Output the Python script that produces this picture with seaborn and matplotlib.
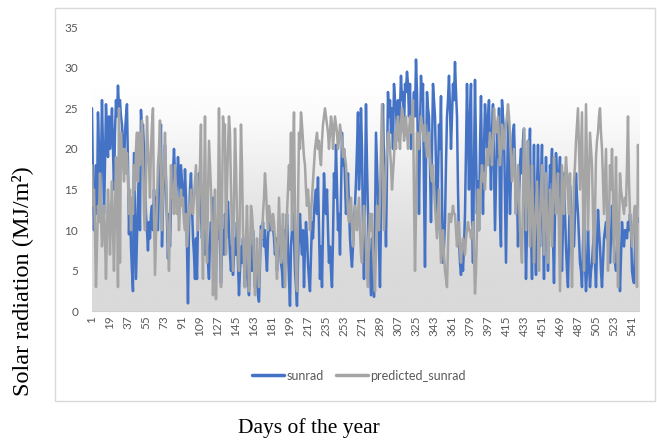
import numpy as np
import pandas as pd
import matplotlib
matplotlib.use("Agg")
import matplotlib.pyplot as plt
from matplotlib.lines import Line2D
from matplotlib.patches import Rectangle
import seaborn as sns

# ---------------- data ----------------
sunrad = [
    25, 16, 10, 14, 18, 12, 24.5, 20, 13.5, 18, 26, 20, 12, 18, 25.5, 22, 19, 24,
    20, 22, 25, 20, 15, 22, 26, 24, 27.8, 25, 26, 24, 23, 20, 17, 22, 24, 25.5,
    18, 9.5, 14, 8, 5, 2.5, 19.5, 12, 4, 9, 14, 17, 10, 24.8, 22, 23, 20, 16,
    12, 10, 7.5, 11, 9, 12, 13, 10, 15, 12, 14, 12, 10, 16, 21, 23, 8, 13,
    17, 20.5, 16, 11, 6.5, 12, 8, 13, 15, 17, 20, 17, 14, 16, 19, 17, 13, 18,
    16, 14, 12, 17.5, 14, 8, 1, 10, 15, 17, 13, 9, 7, 4, 9, 4, 11, 17,
    15, 12, 9, 11, 8, 7, 10, 9, 6, 4, 9, 11, 8, 14, 9, 5, 9, 11,
    9, 13, 8, 3.5, 8, 10, 7, 12, 9, 11, 13.5, 10, 7, 5, 8, 4.5, 7, 9,
    7, 11, 6, 2, 5, 8, 6, 9, 6, 3, 7, 5, 4, 2, 6, 8, 5, 10,
    7, 3, 6, 4, 2, 1.2, 6, 10.5, 9, 11, 8, 10, 7, 5, 9, 11, 10, 11,
    10, 10.5, 9, 7, 9, 5, 8, 10, 8, 6, 5, 3, 7, 10, 9, 12, 8, 4,
    0.7, 8, 10, 12, 9, 5, 3, 0.7, 6, 10, 12, 9, 7, 10, 3, 8, 11, 9,
    6, 4, 2.5, 7, 11, 9, 12, 14, 15, 12, 16.5, 10, 4, 8, 3, 10, 17, 14,
    12, 15, 10, 6, 8, 5, 3, 9, 17, 14, 20.5, 15, 10, 12, 7, 14, 22, 18,
    20, 16, 12, 14, 17, 13, 9, 7, 5.5, 8, 11, 13, 16, 20, 24.5, 15, 18, 25,
    20, 10, 4, 15, 25.5, 18, 12, 8, 5, 2, 9, 6, 1.8, 10, 22, 18, 14, 8,
    3, 12, 20, 25.5, 18, 14, 8, 18, 27, 24, 26, 22, 25, 20, 28, 26, 25, 22,
    26, 21, 25, 29, 26, 27, 22, 28, 27, 29.5, 28, 24, 28, 20, 23, 25, 27, 24,
    31, 27, 20, 12, 22, 29, 26, 28, 15, 5.5, 18, 27, 25, 24, 18, 11, 20, 28,
    26, 24, 18, 10, 16, 23, 20, 26.5, 14, 6, 8, 11, 18, 24, 26, 29, 25, 20,
    24, 28, 26, 30.7, 27, 24, 15, 9, 6, 4.5, 7, 5, 8, 12, 20, 28, 22, 15,
    24, 28, 12, 6, 18, 28.5, 20, 12, 16, 10, 20, 26.5, 18, 12, 20, 25.5, 23, 20,
    24, 26, 20, 15, 22, 25.5, 18, 10, 16, 22, 19, 25, 12, 8, 26, 24, 22, 14,
    6, 15, 23.5, 18, 12, 17, 20, 22, 23, 18, 12, 15, 8, 14, 18, 20, 17, 21,
    22.5, 12, 4, 10, 21, 18, 22.5, 10, 4, 12, 20.5, 9, 4.5, 15, 20.5, 14, 8, 16,
    20.5, 10, 4, 12, 19, 11, 5, 13, 18, 16, 20, 9, 3.5, 12, 19.5, 17, 14, 16,
    19, 10, 5, 11, 17, 12, 8, 5, 3, 9, 15.5, 13, 10, 9, 8, 12, 17, 14,
    12, 9, 6, 5, 3, 8, 12, 6, 2.5, 5, 10, 6, 3, 5, 6, 8, 9.5, 6,
    3, 8, 12.5, 10, 8, 5, 3, 6, 9, 10, 11, 9, 10, 8, 6, 9, 13, 10,
    8, 6, 5, 7, 9, 6, 2.5, 7, 11, 9, 8, 10, 10, 9, 11, 10, 12, 10,
    5, 4, 3.5, 8, 12, 11, 11.5, 11,
]

predicted_sunrad = [
    18, 13, 15, 10, 3, 8, 13, 11, 17, 12, 8, 10, 13, 9, 4, 10, 15, 12,
    7, 12, 16, 10, 5, 12, 19, 14, 3, 25, 6, 22, 18, 20, 16, 20, 17, 19.5,
    16, 12, 15, 10, 14, 12, 18, 15, 20, 22, 16, 22, 18, 20, 23.5, 19, 12, 10,
    16, 24, 20, 18, 14, 20, 23, 25, 12, 4.5, 9, 14, 18, 20, 23.5, 16, 10, 15,
    18, 22, 17, 12, 9, 5, 11, 18, 14, 15, 12, 18, 15, 12, 14, 10, 13, 15,
    13, 14, 11, 10, 12, 8, 10, 13, 12, 15, 13, 12, 14, 16, 18, 13, 10, 14,
    18, 23, 10, 4, 14, 24, 12, 6, 14, 21, 18, 15, 10, 2, 8, 15, 1.5, 8,
    12, 25, 14, 3, 12, 24, 22, 23, 7, 15, 20, 24, 22, 15, 10, 5, 14, 22.5,
    18, 12, 8, 5, 14, 23, 18, 10, 6, 3, 9, 13, 8, 2.5, 7, 13, 12, 10,
    6, 2, 5, 9, 6, 3, 7, 10, 9, 12, 14, 17, 15, 12, 10, 13, 12, 11,
    10, 12, 11, 9, 7, 4, 9, 14, 10, 6, 9, 12, 8, 3, 7, 12, 15, 18,
    15, 22, 10, 18, 24.5, 12, 5, 2.5, 12, 22, 20, 24.5, 23, 21, 19, 18, 15, 13,
    15, 13, 10, 12, 14, 16, 18, 20, 21, 22, 20, 21, 19, 18, 21, 23, 24, 25,
    24, 23, 22, 20, 22, 24, 23, 20, 22, 24, 23, 22, 20, 21, 23, 22, 21, 19,
    20, 19, 18, 15, 12, 11, 13, 14, 11, 8, 10, 13, 12, 10, 12, 14, 10, 7,
    6, 10, 13, 11, 8, 5, 3, 9, 12, 10, 12, 8, 5, 2.5, 8, 13, 11, 10,
    14, 20, 25.5, 18, 10, 14, 18, 20, 22, 22, 20, 18, 15, 17, 19, 22, 20, 23,
    24, 22, 20, 23, 25, 24, 21, 22, 24, 22, 20, 22, 24, 22, 24, 26, 14, 5,
    12, 22, 21, 20, 22, 24, 23, 22, 21, 23, 21, 19, 20, 22, 19, 17, 16, 18,
    15, 13, 11, 9, 12, 15, 10, 6, 8, 10, 7, 5, 4, 3, 8, 12, 12, 11,
    12, 13, 12, 12, 10, 8, 10, 11, 8, 6, 8, 9, 8, 7, 9, 10, 11, 10,
    10, 9, 10, 11, 7, 2.2, 5, 10, 15, 10, 13, 16, 18, 16, 17, 15, 18, 20,
    18, 20, 22, 20, 18, 21, 25, 23, 22, 23, 24, 21, 18, 20, 23, 22, 20, 22,
    23, 24, 25.5, 24, 22, 19, 16, 18, 20, 16, 12, 15, 18, 14, 10, 8, 6, 14,
    22.5, 16, 10, 15, 21, 14, 8, 12, 18, 12, 6, 10, 13, 16, 10, 5, 11, 15,
    18, 12, 7, 12, 17, 11, 6, 10, 15, 12, 8, 14, 19, 15, 12, 14, 17, 10,
    2.5, 10, 18, 15, 12, 16, 19, 17, 14, 12, 17, 9, 3, 10, 16, 18, 21, 23,
    25, 20, 15, 20, 24.5, 14, 5, 15, 25.5, 18, 10, 16, 22, 20, 18, 12, 6, 12,
    19, 21, 22, 24, 25, 22, 20, 16, 12, 16, 20, 12, 5, 11, 18, 15, 20, 14,
    6, 12, 19, 10, 3, 10, 17, 15, 14, 13, 12, 14, 13, 18, 24, 16, 12, 10,
    8, 10, 12, 13, 6, 3, 20.5, 13,
]

days = list(range(1, len(sunrad) + 1))
tick_days = list(range(1, len(sunrad), 18))
tick_labels = [str(d) for d in tick_days]
y_ticks = [0, 5, 10, 15, 20, 25, 30, 35]
series_names = ["sunrad", "predicted_sunrad"]
series_colors = ["#4472C4", "#A5A5A5"]
x_label = "Days of the year"
y_label = "Solar radiation (MJ/m\u00b2)"

n = len(days)
df = pd.DataFrame({
    "day": days + days,
    "value": sunrad + predicted_sunrad,
    "series": [series_names[0]] * n + [series_names[1]] * n,
})

# ---------------- figure ----------------
sns.set_theme(style="white")
plt.rcParams["font.family"] = ["Lato", "DejaVu Sans"]

fig = plt.figure(figsize=(6.57, 4.41), dpi=100)
fig.patch.set_facecolor("white")
ax = fig.add_axes([0.140, 0.2937, 0.8326, 0.645])

# soft vertical gradient background of the plot area
ys = np.linspace(0, 35, 300)
t = np.clip((ys - 4) / 26.0, 0, 1)
shade = 0.855 + 0.145 * (t * t * (3 - 2 * t))
grad = np.tile(shade[:, None], (1, 2))
ax.imshow(grad, extent=(1, n, 0, 35), aspect="auto", cmap="gray",
          vmin=0, vmax=1, origin="lower", zorder=0, interpolation="bilinear")

sns.lineplot(data=df, x="day", y="value", hue="series", hue_order=series_names,
             palette=dict(zip(series_names, series_colors)), linewidth=1.8,
             legend=False, ax=ax, zorder=2, estimator=None)

ax.set_xlim(1, n)
ax.set_ylim(0, 35)
ax.set_xticks(tick_days)
ax.set_xticklabels(tick_labels, rotation=90)
ax.set_yticks(y_ticks)
ax.set_yticklabels([str(v) for v in y_ticks])
ax.set_xlabel("")
ax.set_ylabel("")
ax.tick_params(axis="both", length=0, labelsize=8.5, colors="#595959")
ax.tick_params(axis="y", pad=10)
ax.tick_params(axis="x", pad=3)
for s in ["top", "right", "left"]:
    ax.spines[s].set_visible(False)
ax.spines["bottom"].set_color("#d0d0d0")
ax.spines["bottom"].set_linewidth(0.8)
ax.grid(False)

# chart border
fig.patches.append(Rectangle((55 / 657, 1 - 401 / 441), 600 / 657, 393 / 441,
                             transform=fig.transFigure, fill=False,
                             edgecolor="#d9d9d9", linewidth=1.0))

# legend
handles = [Line2D([0], [0], color=c, lw=2.5) for c in series_colors]
fig.legend(handles, series_names, loc="center", bbox_to_anchor=(0.546, 0.148),
           ncol=2, frameon=False, fontsize=9, handlelength=2.6,
           handletextpad=0.15, columnspacing=1.0, labelcolor="#595959")

# axis titles
fig.text(0.033, 0.363, y_label, rotation=90, ha="center", va="center",
         fontsize=17.5, family=["Liberation Serif", "DejaVu Serif"], color="black")
fig.text(0.470, 0.030, x_label, ha="center", va="center",
         fontsize=15.5, family=["Liberation Serif", "DejaVu Serif"], color="black")

fig.savefig("out.png", dpi=100)
